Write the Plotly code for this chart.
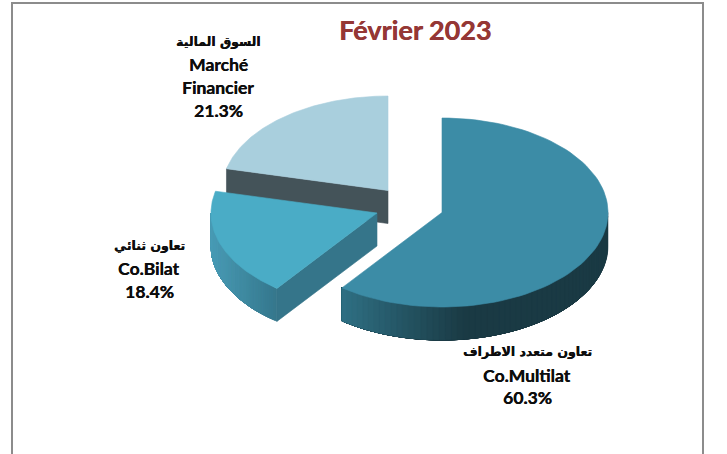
import math
import plotly.graph_objects as go

W, H = 727, 454

# Data
categories = ["Co.Multilat", "Co.Bilat", "Marché Financier"]
shares = [60.3, 18.4, 21.3]
label_lines = [
    ["تعاون متعدد الاطراف", "Co.Multilat"],
    ["تعاون ثنائي", "Co.Bilat"],
    ["السوق المالية", "Marché", "Financier"],
]
title_text = "Février 2023"

# Styling / layout
RX, RY, DEPTH = 166.0, 94.5, 33.0
apex = [(442.0, 212.5), (377.0, 213.0), (388.0, 190.5)]
top_colors = ["#3c8ca6", "#4aacc6", "#a9cfdd"]
label_pos = [(527, [351, 375, 397]), (149, [245, 268, 291]), (218, [41, 64, 87, 110])]
FONT = "Lato, 'DejaVu Sans', sans-serif"
ARABIC_FONT = "'DejaVu Sans', sans-serif"

total = sum(shares)
starts, cur = [], 0.0
for s in shares:
    starts.append(cur)
    cur += s / total * 2 * math.pi
ends = [a + s / total * 2 * math.pi for a, s in zip(starts, shares)]


def pt(c, a, dy=0.0):
    return c[0] + RX * math.sin(a), c[1] - RY * math.cos(a) + dy


def hexmix(c1, c2, t):
    a = [int(c1[i:i + 2], 16) for i in (1, 3, 5)]
    b = [int(c2[i:i + 2], 16) for i in (1, 3, 5)]
    return "#%02x%02x%02x" % tuple(round(p + (q - p) * t) for p, q in zip(a, b))


fig = go.Figure()


def poly(xs, ys, color, lw=0.6):
    fig.add_trace(go.Scatter(
        x=xs + xs[:1], y=ys + ys[:1], mode="lines", fill="toself",
        fillcolor=color, line=dict(color=color, width=lw),
        hoverinfo="skip", showlegend=False))


def top_face(i):
    c, a0, a1 = apex[i], starts[i], ends[i]
    n = 90
    pts = [pt(c, a0 + (a1 - a0) * k / n) for k in range(n + 1)]
    poly([c[0]] + [p[0] for p in pts], [c[1]] + [p[1] for p in pts], top_colors[i])


def outer_wall(i, color_fn, n=60):
    c, a0, a1 = apex[i], starts[i], ends[i]
    # only the front half of the rim shows; each band runs to the far end so
    # later bands paint over earlier ones with no seams between them
    a0v, a1v = max(a0, math.pi / 2), min(a1, 3 * math.pi / 2)
    for k in range(n):
        u0 = a0v + (a1v - a0v) * k / n
        arc = [u0 + (a1v - u0) * j / 40 for j in range(41)]
        upper = [pt(c, u) for u in arc]
        lower = [pt(c, u, DEPTH) for u in reversed(arc)]
        pts = upper + lower
        poly([p[0] for p in pts], [p[1] for p in pts], color_fn(upper[0][0]), lw=0.3)


def radial_wall(i, a, color):
    c = apex[i]
    p = pt(c, a)
    poly([c[0], p[0], p[0], c[0]], [c[1], p[1], p[1] + DEPTH, c[1] + DEPTH], color)


# Marché Financier (back)
radial_wall(2, starts[2], "#445359")
top_face(2)

# Co.Bilat
outer_wall(1, lambda x: hexmix("#4a9cb6", "#35788d", max(0, min(1, (x - 211) / 66))))
radial_wall(1, starts[1], "#35758a")
top_face(1)


# Co.Multilat (front)
def multi_col(x):
    t = min(1.0, max(0.0, (x - 343) / 125))
    return hexmix("#2f7084", "#1a3a44", t)


outer_wall(0, multi_col)
top_face(0)


def is_arabic(text):
    return any("\u0600" <= ch <= "\u06ff" for ch in text)


annotations = [dict(x=415, y=29, text="<b>%s</b>" % title_text, showarrow=False,
                    xref="x", yref="y",
                    font=dict(family=FONT, size=27, color="#953735",
                              shadow="0.4px 0 0 #953735"))]
for i, (cx, ys) in enumerate(label_pos):
    lines = label_lines[i] + ["%.1f%%" % shares[i]]
    for line, y in zip(lines, ys):
        ar = is_arabic(line)
        annotations.append(dict(
            x=cx, y=y, text="<b>%s</b>" % line, showarrow=False, xref="x", yref="y",
            font=dict(family=ARABIC_FONT if ar else FONT, size=12.5 if ar else 17.5,
                      color="#0d0d0d", shadow="0.35px 0 0 #0d0d0d")))

fig.update_layout(
    width=W, height=H, autosize=False,
    margin=dict(l=0, r=0, t=0, b=0),
    paper_bgcolor="white", plot_bgcolor="white",
    xaxis=dict(range=[0, W], visible=False, fixedrange=True),
    yaxis=dict(range=[H, 0], visible=False, fixedrange=True),
    annotations=annotations,
    shapes=[dict(type="rect", xref="x", yref="y", x0=12, x1=703, y0=3, y1=470,
                 line=dict(color="#8c8c8c", width=2))],
)
fig.write_html("out.html", config=dict(displayModeBar=False),
               post_script="document.body.style.margin='0';document.body.style.overflow='hidden';")
